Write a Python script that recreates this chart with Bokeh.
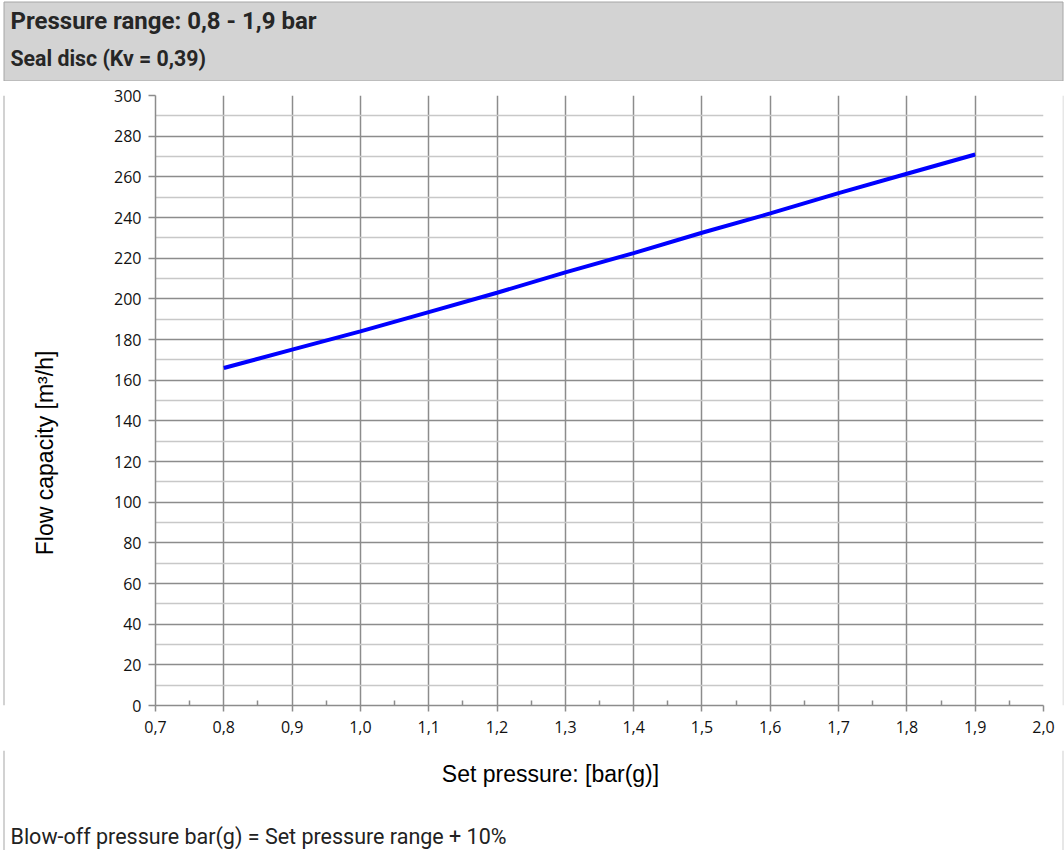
import math
from bokeh.plotting import figure
from bokeh.models import FixedTicker, CustomJSTickFormatter, Range1d
from bokeh.layouts import column, row
from bokeh.core.properties import value
from bokeh.embed import file_html
from bokeh.resources import INLINE

# ---- data / texts ----
title_text = "Pressure range: 0,8 - 1,9 bar"
subtitle_text = "Seal disc (Kv = 0,39)"
footer_text = "Blow-off pressure bar(g) = Set pressure range + 10%"
x_label = "Set pressure: [bar(g)]"
y_label = "Flow capacity [m³/h]"

set_pressure = [0.8, 0.9, 1.0, 1.1, 1.2, 1.3, 1.4, 1.5, 1.6, 1.7, 1.8, 1.9]
flow_capacity = [166, 175, 184, 193.5, 203, 213, 222.5, 232.5, 242, 252, 261.5, 271]

x_ticks = [0.7, 0.8, 0.9, 1.0, 1.1, 1.2, 1.3, 1.4, 1.5, 1.6, 1.7, 1.8, 1.9, 2.0]
y_ticks = [0, 20, 40, 60, 80, 100, 120, 140, 160, 180, 200, 220, 240, 260, 280, 300]

x_minor = [(a + b) / 2 for a, b in zip(x_ticks[:-1], x_ticks[1:])]
y_minor = [(a + b) / 2 for a, b in zip(y_ticks[:-1], y_ticks[1:])]

GRID = "#8c8c8c"
MINOR = "#c8c8c8"
BORDER = "#a6a6a6"
RBORDER = "#d0d0d0"
W = 1064
H_HEAD, H_MID, H_BOT = 81, 669, 100
YLAB_W = 100
RB_W = 2


def canvas(w, h):
    f = figure(width=w, height=h, x_range=Range1d(0, w), y_range=Range1d(h, 0),
               x_axis_type=None, y_axis_type=None, output_backend="svg",
               toolbar_location=None, min_border=0)
    f.outline_line_color = None
    f.background_fill_color = "white"
    f.border_fill_color = "white"
    return f


# ---- header ----
head = canvas(W, H_HEAD)
head.quad(left=[3.5], right=[1062.5], top=[1.5], bottom=[80.5],
          fill_color="#d3d3d3", line_color=BORDER, line_width=1)
head.text(x=[10], y=[20], text=[title_text], text_font=value("Roboto"),
          text_font_style="bold", text_font_size="24px", text_color="#262626",
          text_baseline="middle", text_align="left")
head.text(x=[10], y=[58], text=[subtitle_text], text_font=value("Roboto"),
          text_font_style="bold", text_font_size="21.3px", text_color="#262626",
          text_baseline="middle", text_align="left")

# ---- y label panel ----
ylab = canvas(YLAB_W, H_MID)
ylab.quad(left=[3], right=[4], top=[0], bottom=[H_MID], fill_color=BORDER, line_color=None)
ylab.text(x=[44], y=[392], text=[y_label], angle=math.pi / 2,
          text_font=value("Liberation Sans"), text_font_size="23px", text_color="#000000",
          text_baseline="middle", text_align="center")

# ---- main plot ----
p = figure(
    width=W - YLAB_W - RB_W, height=H_MID,
    x_range=Range1d(0.7, 2.0), y_range=Range1d(0, 300),
    output_backend="svg", toolbar_location=None,
    min_border_left=55, min_border_right=19, min_border_top=14, min_border_bottom=45,
)
p.outline_line_color = None
p.background_fill_color = "white"
p.border_fill_color = "white"

p.xaxis.ticker = FixedTicker(ticks=x_ticks, minor_ticks=x_minor)
p.yaxis.ticker = FixedTicker(ticks=y_ticks, minor_ticks=y_minor)
p.xaxis.formatter = CustomJSTickFormatter(code="return tick.toFixed(1).replace('.', ',');")
p.yaxis.formatter = CustomJSTickFormatter(code="return tick.toFixed(0);")

for ax in (p.xaxis, p.yaxis):
    ax.axis_line_color = GRID
    ax.axis_line_width = 1.5
    ax.major_tick_line_color = GRID
    ax.major_tick_line_width = 1.5
    ax.minor_tick_line_color = GRID
    ax.minor_tick_line_width = 1.5
    ax.major_tick_in = 0
    ax.major_label_text_font = "Open Sans"
    ax.major_label_text_font_size = "16px"
    ax.major_label_text_color = "#111111"

p.xaxis.major_tick_out = 6
p.xaxis.minor_tick_in = 5
p.xaxis.minor_tick_out = 0
p.xaxis.major_label_standoff = 9
p.yaxis.major_tick_out = 7
p.yaxis.minor_tick_in = 0
p.yaxis.minor_tick_out = 0
p.yaxis.major_label_standoff = 7

p.xgrid.grid_line_color = GRID
p.xgrid.grid_line_width = 1.5
p.ygrid.grid_line_color = GRID
p.ygrid.grid_line_width = 1.5
p.ygrid.minor_grid_line_color = MINOR
p.ygrid.minor_grid_line_width = 1.5

p.line(set_pressure, flow_capacity, line_color="#0000ff", line_width=4)

# ---- right border strip ----
rb = canvas(RB_W, H_MID)
rb.quad(left=[0], right=[1], top=[0], bottom=[H_MID], fill_color=RBORDER, line_color=None)

# ---- bottom panel: x label + footer ----
bot = canvas(W, H_BOT)
bot.quad(left=[3, 1062], right=[4, 1063], top=[0, 0], bottom=[H_BOT, H_BOT],
         fill_color=[BORDER, RBORDER], line_color=None)
bot.text(x=[550], y=[23], text=[x_label], text_font=value("Liberation Sans"),
         text_font_size="23px", text_color="#000000",
         text_baseline="middle", text_align="center")
bot.text(x=[10], y=[86], text=[footer_text], text_font=value("Roboto"),
         text_font_size="21.5px", text_color="#222222",
         text_baseline="middle", text_align="left")

layout = column(head, row(ylab, p, rb, spacing=0), bot, spacing=0)

open("out.html", "w").write(file_html(layout, INLINE))
